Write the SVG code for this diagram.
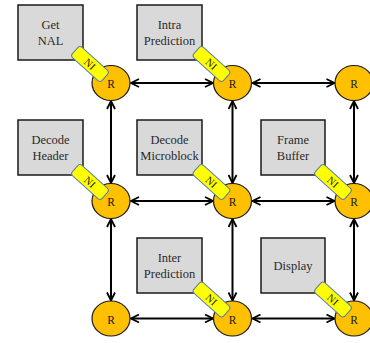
<svg xmlns="http://www.w3.org/2000/svg" width="370" height="343" viewBox="0 0 370 343" font-family="'Liberation Serif', 'Times New Roman', 'DejaVu Serif', serif">
  <style>
    text { font-family: "Liberation Serif", "Times New Roman", "DejaVu Serif", serif; }
    .box { fill: #d9d9d9; stroke: #1a1a1a; stroke-width: 1.5; }
    .lbl { font-size: 12.5px; fill: #2a2a2a; text-anchor: middle; }
    .rt { fill: #ffc000; stroke: #1a1a1a; stroke-width: 1.2; }
    .rtl { font-size: 11.5px; fill: #1a1a1a; text-anchor: middle; }
    .ni { fill: #ffff00; stroke: #5a7fa8; stroke-width: 1; }
    .nil { font-size: 10.5px; fill: #1a1a1a; text-anchor: middle; }
    .link { stroke: #000; stroke-width: 2; fill: none; marker-start: url(#head); marker-end: url(#head); }
  </style>
  <defs>
    <marker id="head" viewBox="0 0 10 10" refX="9" refY="5" markerWidth="10" markerHeight="10" markerUnits="userSpaceOnUse" orient="auto-start-reverse">
      <path d="M1,1 L9,5 L1,9" fill="none" stroke="#000" stroke-width="1.8"/>
    </marker>
    <g id="ni">
      <rect class="ni" x="-20" y="-7" width="40" height="14" rx="3"/>
      <text class="nil" x="0" y="3.8">NI</text>
    </g>
  </defs>

  <rect width="370" height="343" fill="#fff"/>

  <!-- task boxes -->
  <g id="get-nal">
    <rect class="box" x="18" y="5" width="65" height="55"/>
    <text class="lbl" x="50.5" y="28.5">Get</text>
    <text class="lbl" x="50.5" y="44.5">NAL</text>
  </g>
  <g id="intra-prediction">
    <rect class="box" x="137" y="5" width="65" height="55"/>
    <text class="lbl" x="169.5" y="28.5">Intra</text>
    <text class="lbl" x="169.5" y="44.5">Prediction</text>
  </g>
  <g id="decode-header">
    <rect class="box" x="18" y="120" width="65" height="55"/>
    <text class="lbl" x="50.5" y="143.5">Decode</text>
    <text class="lbl" x="50.5" y="159.5">Header</text>
  </g>
  <g id="decode-microblock">
    <rect class="box" x="137" y="120" width="65" height="55"/>
    <text class="lbl" x="169.5" y="143.5">Decode</text>
    <text class="lbl" x="169.5" y="159.5">Microblock</text>
  </g>
  <g id="frame-buffer">
    <rect class="box" x="261" y="120" width="64" height="55"/>
    <text class="lbl" x="293" y="143.5">Frame</text>
    <text class="lbl" x="293" y="159.5">Buffer</text>
  </g>
  <g id="inter-prediction">
    <rect class="box" x="137" y="238" width="65" height="55"/>
    <text class="lbl" x="169.5" y="261.5">Inter</text>
    <text class="lbl" x="169.5" y="277.5">Prediction</text>
  </g>
  <g id="display">
    <rect class="box" x="261" y="238" width="64" height="55"/>
    <text class="lbl" x="293" y="270">Display</text>
  </g>

  <!-- mesh links between routers -->
  <g id="links">
    <line class="link" x1="131" y1="83" x2="213" y2="83"/>
    <line class="link" x1="252.5" y1="83" x2="334.5" y2="83"/>
    <line class="link" x1="131" y1="201" x2="213" y2="201"/>
    <line class="link" x1="252.5" y1="201" x2="334.5" y2="201"/>
    <line class="link" x1="131" y1="318.5" x2="213" y2="318.5"/>
    <line class="link" x1="252.5" y1="318.5" x2="334.5" y2="318.5"/>
    <line class="link" x1="111" y1="101" x2="111" y2="183"/>
    <line class="link" x1="232.5" y1="101" x2="232.5" y2="183"/>
    <line class="link" x1="354" y1="101" x2="354" y2="183"/>
    <line class="link" x1="111" y1="219" x2="111" y2="300.5"/>
    <line class="link" x1="232.5" y1="219" x2="232.5" y2="300.5"/>
    <line class="link" x1="354" y1="219" x2="354" y2="300.5"/>
  </g>

  <!-- routers -->
  <g id="r11"><ellipse class="rt" cx="111" cy="83" rx="19" ry="17.5"/><text class="rtl" x="111" y="88">R</text></g>
  <g id="r12"><ellipse class="rt" cx="232.5" cy="83" rx="19" ry="17.5"/><text class="rtl" x="232.5" y="88">R</text></g>
  <g id="r13"><ellipse class="rt" cx="354" cy="83" rx="19" ry="17.5"/><text class="rtl" x="354" y="88">R</text></g>
  <g id="r21"><ellipse class="rt" cx="111" cy="201" rx="19" ry="17.5"/><text class="rtl" x="111" y="206">R</text></g>
  <g id="r22"><ellipse class="rt" cx="232.5" cy="201" rx="19" ry="17.5"/><text class="rtl" x="232.5" y="206">R</text></g>
  <g id="r23"><ellipse class="rt" cx="354" cy="201" rx="19" ry="17.5"/><text class="rtl" x="354" y="206">R</text></g>
  <g id="r31"><ellipse class="rt" cx="111" cy="318.5" rx="19" ry="17.5"/><text class="rtl" x="111" y="323.5">R</text></g>
  <g id="r32"><ellipse class="rt" cx="232.5" cy="318.5" rx="19" ry="17.5"/><text class="rtl" x="232.5" y="323.5">R</text></g>
  <g id="r33"><ellipse class="rt" cx="354" cy="318.5" rx="19" ry="17.5"/><text class="rtl" x="354" y="323.5">R</text></g>

  <!-- network interfaces -->
  <g id="ni-get-nal"><use href="#ni" transform="translate(90,64) rotate(42)"/></g>
  <g id="ni-intra"><use href="#ni" transform="translate(211.5,64) rotate(42)"/></g>
  <g id="ni-header"><use href="#ni" transform="translate(90,182) rotate(42)"/></g>
  <g id="ni-microblock"><use href="#ni" transform="translate(211.5,182) rotate(42)"/></g>
  <g id="ni-frame"><use href="#ni" transform="translate(333,182) rotate(42)"/></g>
  <g id="ni-inter"><use href="#ni" transform="translate(211.5,299.5) rotate(42)"/></g>
  <g id="ni-display"><use href="#ni" transform="translate(333,299.5) rotate(42)"/></g>
</svg>
